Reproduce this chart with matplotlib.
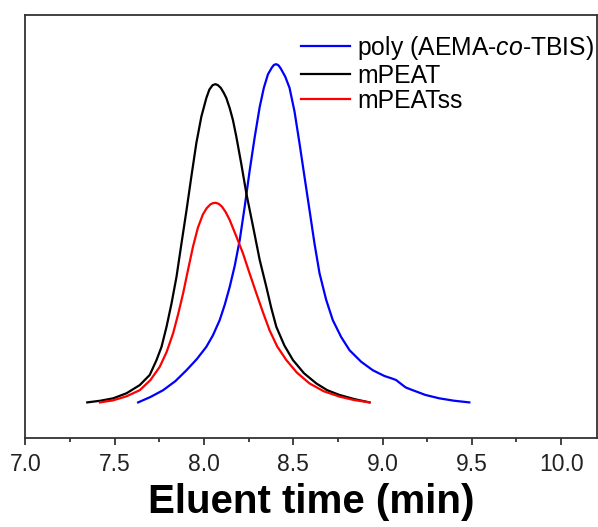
import matplotlib
matplotlib.use("Agg")
import matplotlib.pyplot as plt
from matplotlib.ticker import MultipleLocator, NullLocator

plt.rcParams['font.family'] = ['Liberation Sans', 'DejaVu Sans']
plt.rcParams['mathtext.fontset'] = 'custom'
plt.rcParams['mathtext.rm'] = 'Liberation Sans'
plt.rcParams['mathtext.it'] = 'Liberation Sans:italic'

# Eluent time (min) and normalized intensity
poly_x = [7.631, 7.700, 7.771, 7.840, 7.902, 7.960, 8.013, 8.050, 8.088, 8.116,
          8.144, 8.172, 8.200, 8.228, 8.256, 8.284, 8.312, 8.335, 8.358, 8.380,
          8.392, 8.405, 8.418, 8.430, 8.455, 8.479, 8.507, 8.535, 8.563, 8.591,
          8.619, 8.647, 8.684, 8.721, 8.768, 8.815, 8.880, 8.945, 9.010, 9.050,
          9.076, 9.100, 9.130, 9.169, 9.240, 9.318, 9.400, 9.486]
poly_y = [0.002, 0.018, 0.038, 0.065, 0.097, 0.130, 0.166, 0.200, 0.245, 0.290,
          0.343, 0.405, 0.481, 0.580, 0.687, 0.785, 0.874, 0.930, 0.970, 0.990,
          0.998, 1.000, 0.996, 0.987, 0.963, 0.930, 0.860, 0.766, 0.667, 0.569,
          0.470, 0.383, 0.305, 0.245, 0.195, 0.156, 0.122, 0.097, 0.080, 0.073,
          0.068, 0.058, 0.046, 0.038, 0.024, 0.014, 0.007, 0.002]

mpeat_x = [7.346, 7.420, 7.491, 7.566, 7.640, 7.696, 7.734, 7.762, 7.790, 7.818,
           7.846, 7.874, 7.902, 7.929, 7.957, 7.985, 8.013, 8.030, 8.048, 8.064,
           8.078, 8.094, 8.110, 8.125, 8.144, 8.162, 8.181, 8.209, 8.237, 8.275,
           8.312, 8.349, 8.377, 8.405, 8.450, 8.498, 8.560, 8.629, 8.690, 8.759,
           8.840, 8.927]
mpeat_y = [0.002, 0.007, 0.014, 0.029, 0.053, 0.083, 0.127, 0.166, 0.225, 0.294,
           0.373, 0.472, 0.569, 0.668, 0.767, 0.845, 0.900, 0.925, 0.938, 0.941,
           0.938, 0.930, 0.916, 0.900, 0.870, 0.835, 0.786, 0.705, 0.619, 0.520,
           0.422, 0.343, 0.280, 0.225, 0.170, 0.127, 0.088, 0.058, 0.038, 0.024,
           0.012, 0.002]

mpeatss_x = [7.417, 7.490, 7.566, 7.640, 7.700, 7.752, 7.790, 7.827, 7.855, 7.883,
             7.910, 7.938, 7.966, 7.994, 8.015, 8.035, 8.050, 8.065, 8.082, 8.100,
             8.122, 8.144, 8.180, 8.218, 8.255, 8.293, 8.330, 8.367, 8.410, 8.461,
             8.520, 8.591, 8.670, 8.759, 8.840, 8.927]
mpeatss_y = [0.002, 0.008, 0.020, 0.038, 0.068, 0.107, 0.150, 0.206, 0.262, 0.324,
             0.392, 0.461, 0.518, 0.557, 0.575, 0.586, 0.590, 0.591, 0.588, 0.580,
             0.563, 0.540, 0.493, 0.442, 0.383, 0.324, 0.268, 0.215, 0.167, 0.127,
             0.090, 0.058, 0.035, 0.019, 0.009, 0.002]

labels = [r'poly (AEMA-$\it{co}$-TBIS)', 'mPEAT', 'mPEATss']

fig = plt.figure(figsize=(5.98, 5.27), dpi=100)
ax = fig.add_axes([0.0426, 0.1689, 0.9554, 0.8026])

ax.plot(poly_x, poly_y, color='#0000ff', lw=1.6, label=labels[0])
ax.plot(mpeat_x, mpeat_y, color='#000000', lw=1.6, label=labels[1])
ax.plot(mpeatss_x, mpeatss_y, color='#ff0000', lw=1.6, label=labels[2])

ax.set_xlim(7.0, 10.2)
ax.set_ylim(-0.103, 1.145)
ax.xaxis.set_major_locator(MultipleLocator(0.5))
ax.xaxis.set_minor_locator(MultipleLocator(0.25))
ax.yaxis.set_major_locator(NullLocator())
ax.yaxis.set_minor_locator(NullLocator())
ax.tick_params(axis='x', which='major', direction='out', length=5, width=1.2,
               labelsize=16.5, pad=6, colors='#222222')
ax.tick_params(axis='x', which='minor', direction='out', length=3, width=1.2, colors='#222222')
for s in ax.spines.values():
    s.set_linewidth(1.3)
    s.set_color('#333333')

ax.set_xlabel('Eluent time (min)', fontsize=29, fontweight='bold', labelpad=5)

leg = ax.legend(loc='upper right', bbox_to_anchor=(1.022, 0.99), frameon=False,
                fontsize=17.8, handlelength=2.0, handletextpad=0.3,
                labelspacing=0.06, borderaxespad=0.2)

fig.savefig('out.png', dpi=100)
